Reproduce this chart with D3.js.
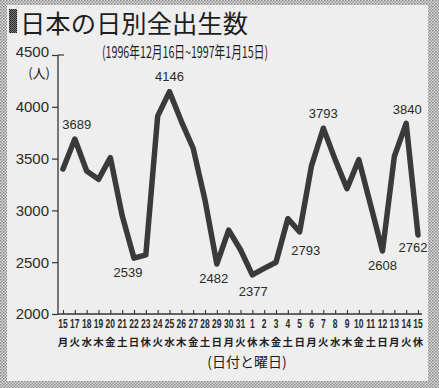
<!DOCTYPE html>
<html>
<head>
<meta charset="utf-8">
<script src="https://cdn.jsdelivr.net/npm/d3@7"></script>
<style>
  body { margin: 0; background: #fff; }
  svg { display: block; }
  .num { font-family: "Liberation Sans", Arial, sans-serif; fill: #2a2a2a; }
  .jp { font-family: "Noto Sans CJK JP", sans-serif; fill: #1e1e1e; }
</style>
</head>
<body>
<div id="chart"></div>
<script>
var dates = ["15","17","18","19","20","21","22","23","24","25","26","27","28","29","30","31",
             "1","2","3","4","5","6","7","8","9","10","11","12","13","14","15"];
var weekdays = ["月","火","水","木","金","土","日","休","火","水","木","金","土","日","月","火",
                "休","木","金","土","日","月","火","水","木","金","土","日","月","火","休"];
var births = [3400, 3689, 3380, 3300, 3510, 2950, 2539, 2570, 3910, 4146, 3860, 3600, 3100, 2482, 2810, 2620,
              2377, 2440, 2500, 2920, 2793, 3430, 3793, 3490, 3210, 3490, 3050, 2608, 3520, 3840, 2762];
var yTicks = [2000, 2500, 3000, 3500, 4000, 4500];
var labelled = [1, 6, 9, 13, 16, 20, 22, 27, 29, 30];

// label offsets from the point, by index
var labelOffset = {1: [2, -13], 6: [-6, 15], 9: [0, -14], 13: [-3, 15], 16: [1, 18],
                   20: [6, 20], 22: [0, -14], 27: [0, 16], 29: [1, -13], 30: [-5, 14]};

var W = 439, H = 388;
var svg = d3.select("#chart").append("svg").attr("width", W).attr("height", H);

var defs = svg.append("defs");
var pat = defs.append("pattern").attr("id", "dots").attr("width", 3).attr("height", 3)
  .attr("patternUnits", "userSpaceOnUse");
pat.append("rect").attr("width", 3).attr("height", 3).attr("fill", "#d9d9d9");
pat.append("rect").attr("width", 1.5).attr("height", 1.5).attr("fill", "#8a8a8a");
pat.append("rect").attr("x", 1.5).attr("y", 1.5).attr("width", 1.5).attr("height", 1.5).attr("fill", "#9a9a9a");

var hatch = defs.append("pattern").attr("id", "hatch").attr("width", 2).attr("height", 2)
  .attr("patternUnits", "userSpaceOnUse");
hatch.append("rect").attr("width", 2).attr("height", 2).attr("fill", "#777");
hatch.append("rect").attr("width", 1).attr("height", 1).attr("fill", "#222");
hatch.append("rect").attr("x", 1).attr("y", 1).attr("width", 1).attr("height", 1).attr("fill", "#333");

svg.append("rect").attr("width", W).attr("height", H).attr("fill", "url(#dots)");
svg.append("rect").attr("x", 7).attr("y", 5).attr("width", 421).attr("height", 376).attr("fill", "#eeeeee");

// title
svg.append("rect").attr("x", 9).attr("y", 9).attr("width", 8).attr("height", 24).attr("fill", "url(#hatch)");
svg.append("text").attr("class", "jp").attr("x", 20).attr("y", 33)
  .attr("textLength", 228).attr("lengthAdjust", "spacingAndGlyphs")
  .style("font-size", "25px").text("日本の日別全出生数");
svg.append("text").attr("class", "jp").attr("x", 102).attr("y", 58)
  .attr("textLength", 166).attr("lengthAdjust", "spacingAndGlyphs")
  .style("font-size", "16px").text("(1996年12月16日~1997年1月15日)");

var x = d3.scalePoint().domain(d3.range(births.length)).range([63, 418]);
var y = d3.scaleLinear().domain([2000, 4500]).range([314, 55]);

// y axis
var yAxis = svg.append("g").attr("transform", "translate(58,0)")
  .call(d3.axisLeft(y).tickValues(yTicks).tickSize(6).tickPadding(3).tickFormat(d3.format("d")));
yAxis.select(".domain").attr("stroke", "#333").attr("stroke-width", 1.3).attr("d", "M0,55V314");
yAxis.selectAll(".tick line").attr("stroke", "#333").attr("stroke-width", 1.2);
yAxis.selectAll(".tick text").attr("class", "num").style("font-size", "15px").attr("fill", "#2a2a2a");
yAxis.selectAll(".tick text").filter(function(d){ return d === 4500; }).attr("dy", "0.1em");
yAxis.append("line").attr("x1", 0).attr("x2", 6).attr("y1", y(4500)).attr("y2", y(4500))
  .attr("stroke", "#333").attr("stroke-width", 1.2);
svg.append("text").attr("class", "jp").attr("x", 50).attr("y", 78).attr("text-anchor", "end")
  .style("font-size", "13px").text("(人)");

// x axis
var xAxis = svg.append("g").attr("transform", "translate(0,314)")
  .call(d3.axisBottom(x).tickSize(-4).tickFormat(""));
xAxis.select(".domain").attr("stroke", "#333").attr("stroke-width", 1.3).attr("d", "M58,0H422");
xAxis.selectAll(".tick line").attr("stroke", "#333").attr("stroke-width", 1.1);

svg.append("g").selectAll("text").data(dates).join("text")
  .attr("class", "num")
  .attr("transform", function(d, i){ return "translate(" + x(i) + ",328) scale(0.68,1)"; })
  .attr("text-anchor", "middle").style("font-size", "12.5px").style("font-weight", "bold")
  .text(function(d){ return d; });

svg.append("g").selectAll("text").data(weekdays).join("text")
  .attr("class", "jp")
  .attr("x", function(d, i){ return x(i); }).attr("y", 346)
  .attr("text-anchor", "middle").style("font-size", "10.5px").style("font-weight", "bold")
  .text(function(d){ return d; });

svg.append("text").attr("class", "jp").attr("x", 247).attr("y", 367).attr("text-anchor", "middle")
  .style("font-size", "14px").text("(日付と曜日)");

// line
var line = d3.line().x(function(d, i){ return x(i); }).y(function(d){ return y(d); });
svg.append("path").datum(births).attr("d", line)
  .attr("fill", "none").attr("stroke", "#3a3a3a").attr("stroke-width", 5.5)
  .attr("stroke-linejoin", "round").attr("stroke-linecap", "round");

svg.append("g").selectAll("text").data(labelled).join("text")
  .attr("class", "num")
  .attr("x", function(i){ return x(i) + labelOffset[i][0]; })
  .attr("y", function(i){ return y(births[i]) + labelOffset[i][1]; })
  .attr("text-anchor", "middle").attr("dominant-baseline", "middle")
  .style("font-size", "13px")
  .text(function(i){ return births[i]; });
</script>
</body>
</html>
